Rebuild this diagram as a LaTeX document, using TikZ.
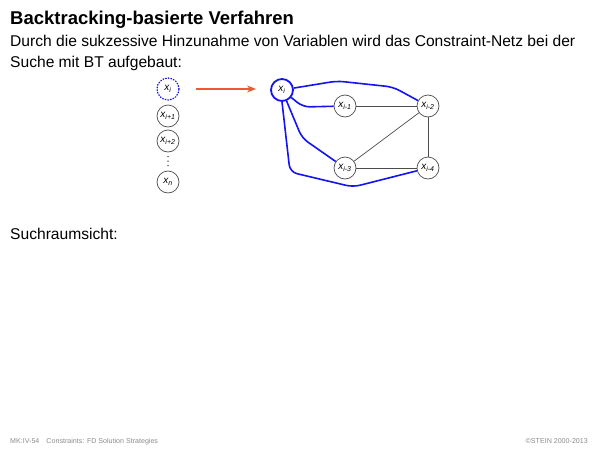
\documentclass[tikz,border=0pt]{standalone}
\usepackage{fontspec}
\setmainfont{Liberation Sans}
\usetikzlibrary{arrows.meta}
\definecolor{arrowred}{RGB}{240,88,50}
\definecolor{edgeblue}{RGB}{20,20,240}
\begin{document}
\begin{tikzpicture}[x=1pt,y=-1pt,
  var/.style={circle,draw=black!70,line width=0.7pt,minimum size=22pt,inner sep=0pt,font=\fontsize{10}{11}\selectfont\itshape},
  blueedge/.style={draw=edgeblue,line width=1.6pt,rounded corners=7pt},
  grayedge/.style={draw=black!70,line width=0.7pt},
  body/.style={anchor=base west,inner sep=0pt,font=\fontsize{15.6}{18}\selectfont},
  foot/.style={font=\fontsize{7.1}{8}\selectfont,text=black!45,inner sep=0pt}]
\useasboundingbox[fill=white] (0,0) rectangle (600,450);
\node[anchor=base west,inner sep=0pt,font=\fontsize{18.5}{20}\selectfont\bfseries] (title) at (10,24) {Backtracking-basierte Verfahren};
\node[body] (l1) at (10,46) {Durch die sukzessive Hinzunahme von Variablen wird das Constraint-Netz bei der};
\node[body] (l2) at (10,67) {Suche mit BT aufgebaut:};
\node[body] (l3) at (10,239) {Suchraumsicht:};
% left column
\node[var,draw=edgeblue,dotted,line width=1.3pt,line cap=round] (a) at (168,89) {x\textsubscript{i}};
\node[var] (b) at (168,116) {x\textsubscript{i+1}};
\node[var] (c) at (168,141) {x\textsubscript{i+2}};
\coordinate (d) at (168,161);
\fill[black!80] (168,156.5) circle (0.75) (168,161) circle (0.75) (168,165.5) circle (0.75);
\node[var] (e) at (168,182) {x\textsubscript{n}};
\coordinate (ar1) at (196,89);
\coordinate (ar2) at (256,89);
\draw[draw=arrowred,line width=1.3pt,-{Stealth[length=9pt,width=7pt]}] (ar1) -- (ar2);
% graph
\node[var,draw=edgeblue,line width=1.8pt,minimum size=22pt] (xi) at (282,90) {x\textsubscript{i}};
\node[var] (x1) at (345,106) {x\textsubscript{i-1}};
\node[var] (x2) at (428,106) {x\textsubscript{i-2}};
\node[var] (x3) at (345,168) {x\textsubscript{i-3}};
\node[var] (x4) at (428,168) {x\textsubscript{i-4}};
\draw[grayedge] (x1) -- (x2);
\draw[grayedge] (x2) -- (x3);
\draw[grayedge] (x2) -- (x4);
\draw[grayedge] (x3) -- (x4);
\draw[blueedge] (xi) -- (337,81) -- (393,87) -- (x2);
\draw[blueedge] (xi) -- (303,107) -- (x1);
\draw[blueedge] (xi) -- (302,138) -- (x3);
\draw[blueedge] (xi.south) -- (290,172) -- (353,187) -- (x4);
% footer
\node[foot,anchor=base west] (f1) at (10,443) {MK:IV-54\quad Constraints: FD Solution Strategies};
\node[foot,anchor=base east] (f2) at (588,443) {\textcopyright STEIN 2000-2013};
\end{tikzpicture}
\end{document}
